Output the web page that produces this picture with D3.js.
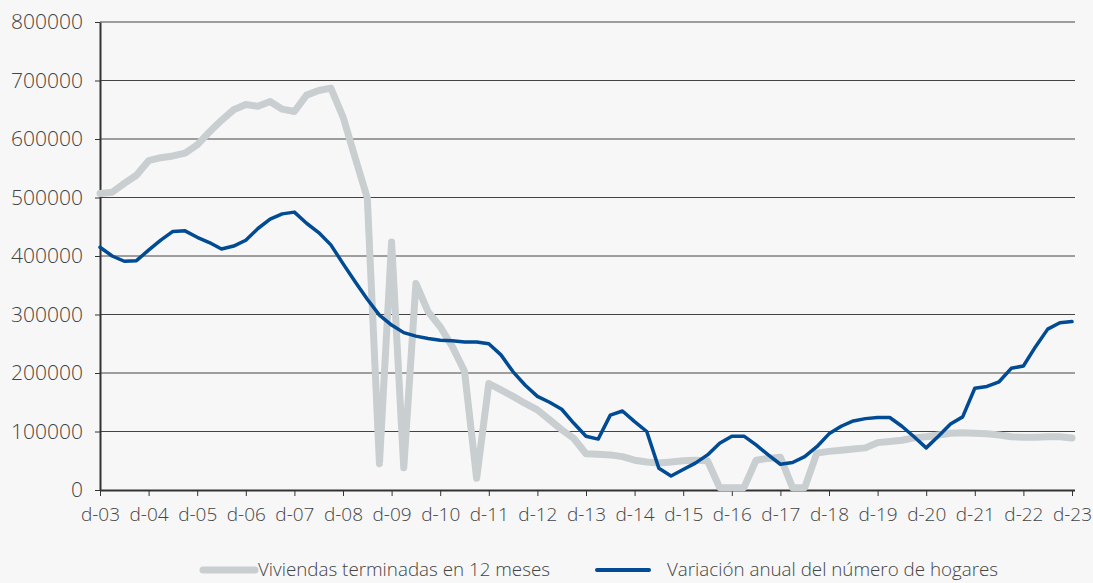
<!DOCTYPE html>
<html>
<head>
<meta charset="utf-8">
<script src="https://cdn.jsdelivr.net/npm/d3@7"></script>
<style>
  html, body { margin: 0; padding: 0; background: #f7f7f7; }
  svg { display: block; }
  .axis text { font-family: 'Open Sans', Lato, sans-serif; font-weight: 300; fill: #444; }
  .axis.y text { font-size: 21px; }
  .axis.x text { font-size: 19px; }
  .axis path, .axis line { stroke: #333; }
  .grid line { stroke: #444; stroke-width: 1; }
  .legend text { font-family: 'Open Sans', Lato, sans-serif; font-weight: 300; font-size: 18.8px; fill: #444; }
</style>
</head>
<body>
<div id="chart"></div>
<script>
// quarterly series, d-03 .. d-23 (81 points)
const yearLabels = ['d-03','d-04','d-05','d-06','d-07','d-08','d-09','d-10','d-11','d-12','d-13','d-14','d-15','d-16','d-17','d-18','d-19','d-20','d-21','d-22','d-23'];
const yTicks = [0, 100000, 200000, 300000, 400000, 500000, 600000, 700000, 800000];

// Viviendas terminadas en 12 meses (thousands)
const viviendas = [507,509,524,538,563,568,571,576,590,612,632,650,659,656,664,651,647,675,683,687,
  638,568,499,45,424,38,353,305,279,245,203,20,182,171,160,148,137,120,103,88,
  62,61,60,57,51,48,46,48,50,51,50,4,4,4,51,54,56,4,4,63,
  66,68,70,72,81,83,85,89,91,94,97,98,97,96,94,91,90,90,91,91,89];

// Variación anual del número de hogares (thousands)
const hogares = [415,400,391,392,410,427,442,443,432,423,412,417,427,447,463,472,475,456,440,419,
  387,356,326,299,282,269,263,259,256,255,253,253,250,231,202,179,160,150,138,114,
  92,87,128,135,117,100,37,24,35,46,60,80,92,92,77,60,44,47,57,74,
  96,109,118,122,124,124,109,91,72,92,113,125,174,177,185,208,212,245,275,286,288];

const seriesNames = ['Viviendas terminadas en 12 meses', 'Variación anual del número de hogares'];
const colours = ['#c9ced1', '#004b93'];

const width = 1093, height = 583;
const margin = {top: 22, right: 21, bottom: 93, left: 100};

const svg = d3.select('#chart').append('svg')
  .attr('width', width)
  .attr('height', height);

const x = d3.scaleLinear()
  .domain([0, viviendas.length - 1])
  .range([margin.left, 1072]);
const y = d3.scaleLinear()
  .domain([0, 800000])
  .range([height - margin.bottom, margin.top]);

// grid lines
svg.append('g')
  .attr('class', 'grid')
  .selectAll('line')
  .data(yTicks.slice(1))
  .enter().append('line')
    .attr('x1', margin.left)
    .attr('x2', 1075)
    .attr('y1', d => y(d))
    .attr('y2', d => y(d));

// axes
const yAxis = svg.append('g')
  .attr('class', 'axis y')
  .attr('transform', `translate(${margin.left},0)`)
  .call(d3.axisLeft(y).tickValues(yTicks).tickSize(5).tickSizeOuter(0).tickPadding(12).tickFormat(d3.format('d')));
yAxis.select('.domain').attr('stroke-width', 2);

const xAxis = svg.append('g')
  .attr('class', 'axis x')
  .attr('transform', `translate(0,${y(0)})`)
  .call(d3.axisBottom(x)
    .tickValues(yearLabels.map((d, i) => i * 4))
    .tickFormat((d, i) => yearLabels[i])
    .tickSize(6).tickSizeOuter(0).tickPadding(12));
xAxis.select('.domain').attr('d', `M${margin.left},0.5H1075`).attr('stroke-width', 2);

// lines
const line = d3.line()
  .x((d, i) => x(i))
  .y(d => y(d * 1000));

svg.append('path')
  .datum(viviendas)
  .attr('fill', 'none')
  .attr('stroke', colours[0])
  .attr('stroke-width', 7)
  .attr('stroke-linejoin', 'round')
  .attr('stroke-linecap', 'round')
  .attr('d', line);

svg.append('path')
  .datum(hogares)
  .attr('fill', 'none')
  .attr('stroke', colours[1])
  .attr('stroke-width', 3.5)
  .attr('stroke-linejoin', 'round')
  .attr('stroke-linecap', 'round')
  .attr('d', line);

// legend
const legendItems = [
  {name: seriesNames[0], colour: colours[0], w: 7, x0: 203, tx: 258},
  {name: seriesNames[1], colour: colours[1], w: 4, x0: 597, tx: 667}
];
const legend = svg.append('g').attr('class', 'legend');
legend.selectAll('line')
  .data(legendItems)
  .enter().append('line')
    .attr('x1', d => d.x0)
    .attr('x2', d => d.x0 + 52)
    .attr('y1', 570).attr('y2', 570)
    .attr('stroke', d => d.colour)
    .attr('stroke-width', d => d.w)
    .attr('stroke-linecap', 'round');
legend.selectAll('text')
  .data(legendItems)
  .enter().append('text')
    .attr('x', d => d.tx)
    .attr('y', 576)
    .text(d => d.name);
</script>
</body>
</html>
